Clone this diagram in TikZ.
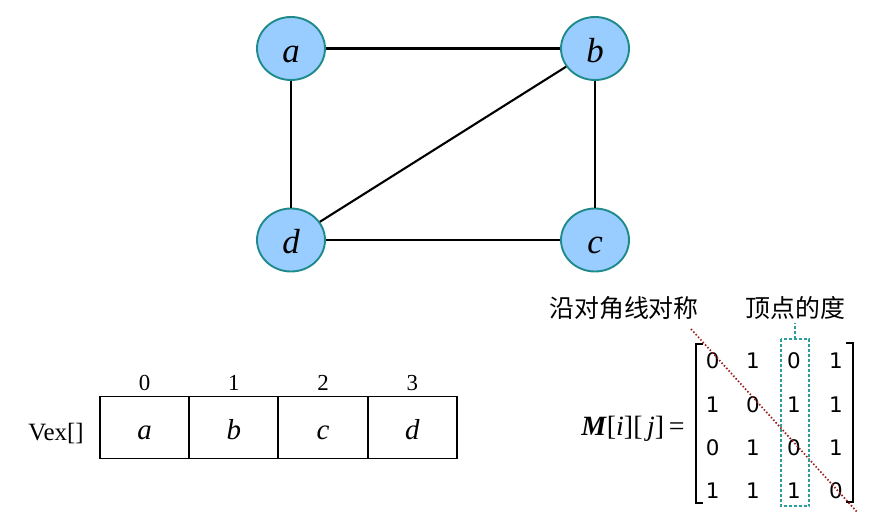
\documentclass[tikz,border=0pt]{standalone}
\usepackage{fontspec}
\setmainfont{Liberation Serif}
\newfontfamily\cjk{Noto Sans CJK SC}
\newfontfamily\digitfont{DejaVu Sans}
\usetikzlibrary{shapes.geometric}
\definecolor{nodeblue}{HTML}{99CCFF}
\definecolor{nodeborder}{HTML}{1E8A8A}
\definecolor{diagred}{HTML}{9B1C1C}
\definecolor{degteal}{HTML}{2A9D9D}
\tikzset{
  vert/.style={ellipse, draw=nodeborder, fill=nodeblue, line width=1.9bp,
    minimum width=68bp, minimum height=63bp, inner sep=0pt,
    text height=28bp, text depth=0bp,
    font=\fontsize{35}{35}\selectfont\itshape},
  edge/.style={line width=2.1bp, black},
  cell/.style={draw, line width=1.7bp, minimum width=89bp, minimum height=62bp,
    inner sep=0pt, text height=24bp, text depth=0bp,
    font=\fontsize{29}{29}\selectfont\itshape},
  idx/.style={font=\fontsize{23}{23}\selectfont, inner sep=0pt, anchor=base},
  entry/.style={font=\digitfont\fontsize{21.5}{21.5}\selectfont, inner sep=0pt, anchor=base},
  bracket/.style={line width=1.6bp},
  cjklabel/.style={font=\cjk\fontsize{25}{25}\selectfont, inner sep=0pt},
  symline/.style={diagred, line width=1.7bp, dash pattern=on 1.5bp off 2bp},
  degbox/.style={degteal, line width=1.7bp, dash pattern=on 3bp off 2bp}
}
\begin{document}
\begin{tikzpicture}[x=1bp,y=-1bp]
\useasboundingbox (0,0) rectangle (882,525);
% graph
\node[vert] (a) at (291,48.5) {a};
\node[vert] (b) at (595,48.5) {b};
\node[vert] (d) at (291,240) {d};
\node[vert] (c) at (595,240) {c};
\draw[edge] (a) -- (b);
\draw[edge] (a) -- (d);
\draw[edge] (b) -- (c);
\draw[edge] (d) -- (c);
\draw[edge] (b) -- (d);
% array
\node[cell] (c0) at (144.6,427.5) {a};
\node[cell] (c1) at (233.8,427.5) {b};
\node[cell] (c2) at (323,427.5) {c};
\node[cell] (c3) at (412.3,427.5) {d};
\node[idx] (i0) at (144.6,390) {0};
\node[idx] (i1) at (233.8,390) {1};
\node[idx] (i2) at (323,390) {2};
\node[idx] (i3) at (412.3,390) {3};
\node[idx, font=\fontsize{25}{25}\selectfont] (vex) at (56,440) {Vex[]};
% matrix
\node[font=\fontsize{28}{28}\selectfont, inner sep=0pt, anchor=base] (mlabel) at (633,435) {\textbf{\textit{M}}[\textit{i}][\,\textit{j}]\,=};
\node[entry] (m11) at (712.7,368) {0};
\node[entry] (m12) at (753,368) {1};
\node[entry] (m13) at (794,368) {0};
\node[entry] (m14) at (836,368) {1};
\node[entry] (m21) at (712.7,412) {1};
\node[entry] (m22) at (753,412) {0};
\node[entry] (m23) at (794,412) {1};
\node[entry] (m24) at (836,412) {1};
\node[entry] (m31) at (712.7,455) {0};
\node[entry] (m32) at (753,455) {1};
\node[entry] (m33) at (794,455) {0};
\node[entry] (m34) at (836,455) {1};
\node[entry] (m41) at (712.7,498) {1};
\node[entry] (m42) at (753,498) {1};
\node[entry] (m43) at (794,498) {1};
\node[entry] (m44) at (836,498) {0};
\draw[bracket] (703,344) -- (695.7,344) -- (695.7,503) -- (703,503);
\draw[bracket] (846,343) -- (853,343) -- (853,502) -- (846,502);
% annotations
\coordinate (diagstart) at (691,329);
\coordinate (diagend) at (858,513);
\draw[symline] (diagstart) -- (diagend);
\draw[degbox] (780.7,339) rectangle (809.3,506);
\coordinate (boxtop) at (795,339);
\coordinate (stemtop) at (795,323);
\draw[degbox] (boxtop) -- (stemtop);
\node[cjklabel] (sym) at (624,308) {沿对角线对称};
\node[cjklabel] (deg) at (795.5,308) {顶点的度};
\end{tikzpicture}
\end{document}
